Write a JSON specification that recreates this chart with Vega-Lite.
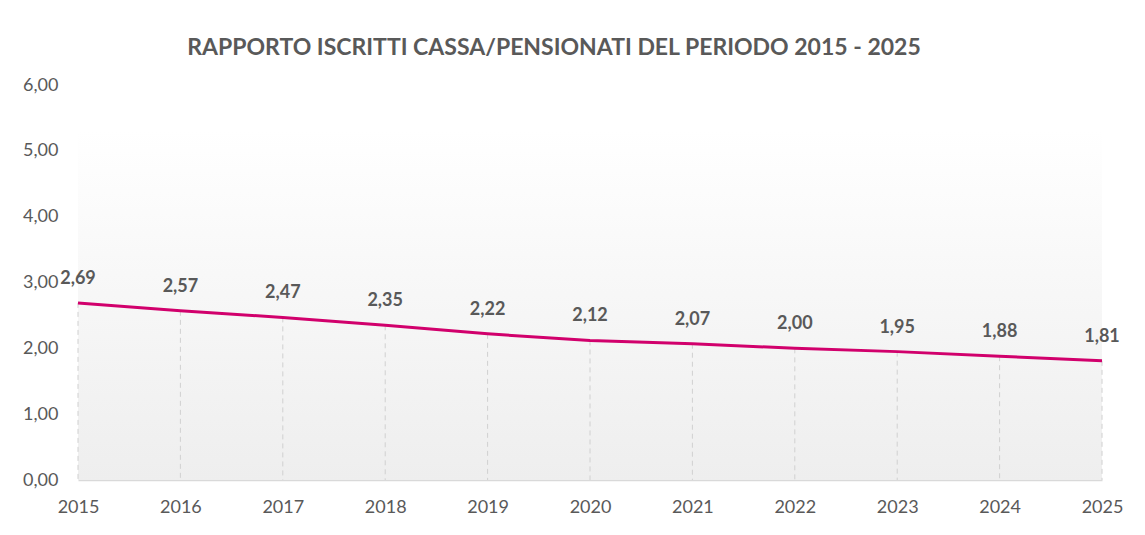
{
  "$schema": "https://vega.github.io/schema/vega-lite/v6.json",
  "width": 1024,
  "height": 395,
  "autosize": "none",
  "padding": {"left": 78, "top": 85, "right": 43, "bottom": 60},
  "background": "white",
  "config": {
    "view": {"stroke": null},
    "font": "Lato"
  },
  "title": {
    "text": "RAPPORTO ISCRITTI CASSA/PENSIONATI DEL PERIODO 2015 - 2025",
    "fontSize": 23,
    "font": "Lato",
    "fontWeight": "bold",
    "color": "#595959",
    "anchor": "middle",
    "dx": -36,
    "offset": 16
  },
  "data": {"values": [
    {"anno": 2015, "valore": 2.69},
    {"anno": 2016, "valore": 2.57},
    {"anno": 2017, "valore": 2.47},
    {"anno": 2018, "valore": 2.35},
    {"anno": 2019, "valore": 2.22},
    {"anno": 2020, "valore": 2.12},
    {"anno": 2021, "valore": 2.07},
    {"anno": 2022, "valore": 2.00},
    {"anno": 2023, "valore": 1.95},
    {"anno": 2024, "valore": 1.88},
    {"anno": 2025, "valore": 1.81}
  ]},
  "layer": [
    {
      "data": {"values": [{"k": 1}]},
      "mark": {"type": "rect", "fill": {"gradient": "linear", "x1": 0, "y1": 0, "x2": 0, "y2": 1, "stops": [{"offset": 0, "color": "#ffffff"}, {"offset": 1, "color": "#eeeeee"}]}},
      "encoding": {
        "x": {"datum": 2015, "type": "quantitative"},
        "x2": {"datum": 2025},
        "y": {"datum": 5.32, "type": "quantitative"},
        "y2": {"datum": 0}
      }
    },
    {
      "mark": {"type": "rule", "color": "#d0d0d0", "strokeDash": [5, 4], "strokeWidth": 1},
      "encoding": {
        "x": {"field": "anno", "type": "quantitative"},
        "y": {"field": "valore", "type": "quantitative"},
        "y2": {"datum": 0}
      }
    },
    {
      "mark": {"type": "line", "color": "#d1006c", "strokeWidth": 3},
      "encoding": {
        "x": {"field": "anno", "type": "quantitative",
          "scale": {"domain": [2015, 2025], "nice": false, "zero": false},
          "axis": {"values": [2015, 2016, 2017, 2018, 2019, 2020, 2021, 2022, 2023, 2024, 2025], "format": "d", "title": null,
            "grid": false, "ticks": false, "domainColor": "#d9d9d9", "domainWidth": 1.5,
            "labelFont": "Lato", "labelFontSize": 18, "labelColor": "#595959", "labelPadding": 18, "labelFlush": false}},
        "y": {"field": "valore", "type": "quantitative",
          "scale": {"domain": [0, 6], "nice": false},
          "axis": {"values": [0, 1, 2, 3, 4, 5, 6], "labelExpr": "replace(format(datum.value, '.2f'), '.', ',')", "title": null, "grid": false, "ticks": false, "domain": false,
            "labelFont": "Lato", "labelFontSize": 18, "labelColor": "#595959", "labelPadding": 20}}
      }
    },
    {
      "transform": [{"calculate": "replace(format(datum.valore, '.2f'), '.', ',')", "as": "etichetta"}],
      "mark": {"type": "text", "fontWeight": "bold", "font": "Lato", "fontSize": 18, "color": "#595959", "dy": -24, "baseline": "middle"},
      "encoding": {
        "x": {"field": "anno", "type": "quantitative"},
        "y": {"field": "valore", "type": "quantitative"},
        "text": {"field": "etichetta", "type": "nominal"}
      }
    }
  ]
}
